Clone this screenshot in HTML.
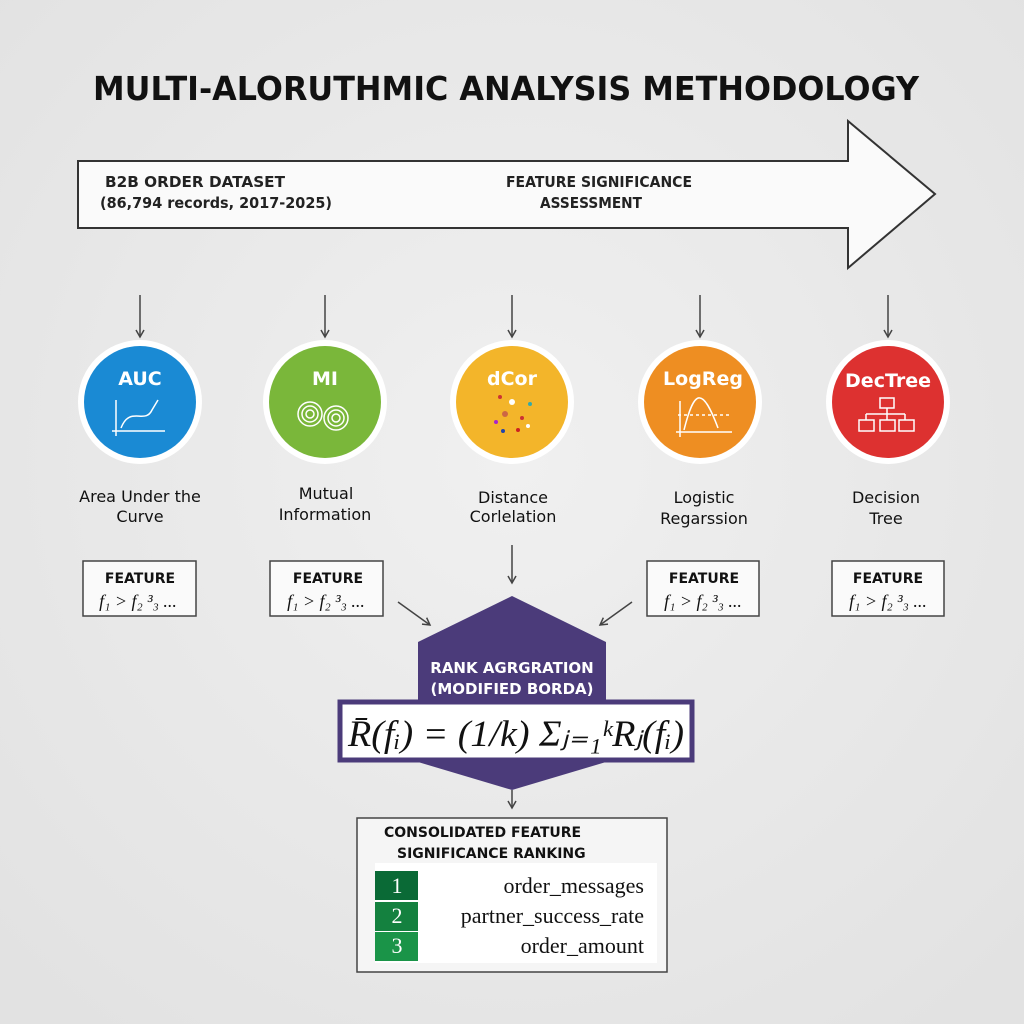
<!DOCTYPE html>
<html><head><style>
html,body{margin:0;padding:0;background:#e9e9e9;}
svg{display:block;}
text{font-family:"DejaVu Sans","Liberation Sans",sans-serif;}
text.serif,.serif text{font-family:"Liberation Serif",serif;}
</style></head><body>
<svg width="1024" height="1024" viewBox="0 0 1024 1024" xmlns="http://www.w3.org/2000/svg">
<defs>
<radialGradient id="bg" cx="50%" cy="45%" r="70%"><stop offset="0" stop-color="#f0f0f0"/><stop offset="1" stop-color="#e2e2e2"/></radialGradient>
<marker id="ah" markerWidth="10" markerHeight="10" refX="8" refY="5" orient="auto" markerUnits="userSpaceOnUse"><path d="M1,1 L8,5 L1,9" fill="none" stroke="#444" stroke-width="1.5"/></marker>
</defs>
<rect width="1024" height="1024" fill="url(#bg)"/>
<text x="506" y="100" text-anchor="middle" font-size="33" font-weight="bold" fill="#111" textLength="826" lengthAdjust="spacingAndGlyphs">MULTI-ALORUTHMIC ANALYSIS METHODOLOGY</text>
<path d="M78,161 L848,161 L848,121 L935,194 L848,268 L848,228 L78,228 Z" fill="#fafafa" stroke="#333" stroke-width="2"/>
<g font-size="15" font-weight="bold" fill="#222">
<text x="105" y="187" textLength="180" lengthAdjust="spacingAndGlyphs">B2B ORDER DATASET</text>
<text x="100" y="208" textLength="232" lengthAdjust="spacingAndGlyphs">(86,794 records, 2017-2025)</text>
<text x="506" y="187" textLength="186" lengthAdjust="spacingAndGlyphs">FEATURE SIGNIFICANCE</text>
<text x="540" y="208" textLength="102" lengthAdjust="spacingAndGlyphs">ASSESSMENT</text>
</g>
<g stroke="#444" stroke-width="1.5" marker-end="url(#ah)">
<line x1="140" y1="295" x2="140" y2="337"/><line x1="325" y1="295" x2="325" y2="337"/><line x1="512" y1="295" x2="512" y2="337"/><line x1="700" y1="295" x2="700" y2="337"/><line x1="888" y1="295" x2="888" y2="337"/>
<line x1="512" y1="545" x2="512" y2="583"/>
<line x1="398" y1="602" x2="430" y2="625"/>
<line x1="632" y1="602" x2="600" y2="625"/>
<line x1="512" y1="790" x2="512" y2="808"/>
</g>
<g>
<circle cx="140" cy="402" r="62" fill="#fff"/><circle cx="140" cy="402" r="56" fill="#1a8ad4"/>
<circle cx="325" cy="402" r="62" fill="#fff"/><circle cx="325" cy="402" r="56" fill="#7ab73a"/>
<circle cx="512" cy="402" r="62" fill="#fff"/><circle cx="512" cy="402" r="56" fill="#f3b52a"/>
<circle cx="700" cy="402" r="62" fill="#fff"/><circle cx="700" cy="402" r="56" fill="#ee8e22"/>
<circle cx="888" cy="402" r="62" fill="#fff"/><circle cx="888" cy="402" r="56" fill="#dd3130"/>
</g>
<g font-weight="bold" fill="#fff" text-anchor="middle" font-size="19">
<text x="140" y="385">AUC</text><text x="325" y="385">MI</text><text x="512" y="385">dCor</text><text x="703" y="385">LogReg</text><text x="888" y="387">DecTree</text>
</g>
<g stroke="#fff" stroke-width="1.5" fill="none">
<path d="M116,400 V436 M112,431 H165"/><path d="M121,428 C130,405 145,425 152,410 L158,400"/>
<circle cx="310" cy="414" r="12"/><circle cx="310" cy="414" r="8"/><circle cx="310" cy="414" r="4"/>
<circle cx="336" cy="418" r="12"/><circle cx="336" cy="418" r="8"/><circle cx="336" cy="418" r="4"/>
<path d="M680,401 V437 M676,432 H732"/><path d="M684,430 C694,390 702,385 718,428"/><path d="M678,415 H730" stroke-dasharray="3,3"/>
<rect x="880" y="398" width="14" height="10"/><path d="M887,408 V414 M866,414 H905 M866,414 V420 M887,414 V420 M905,414 V420"/>
<rect x="859" y="420" width="15" height="11"/><rect x="880" y="420" width="15" height="11"/><rect x="899" y="420" width="15" height="11"/>
</g>
<g>
<circle cx="500" cy="397" r="2" fill="#c33"/><circle cx="512" cy="402" r="3" fill="#fff"/><circle cx="505" cy="414" r="3" fill="#c64"/><circle cx="522" cy="418" r="2" fill="#c33"/><circle cx="530" cy="404" r="2" fill="#3aa"/><circle cx="496" cy="422" r="2" fill="#a2c"/><circle cx="518" cy="430" r="2" fill="#c22"/><circle cx="503" cy="431" r="2" fill="#24a"/><circle cx="528" cy="426" r="2" fill="#fff"/>
</g>
<g font-size="16" fill="#111" text-anchor="middle">
<text x="140" y="502">Area Under the</text><text x="140" y="522">Curve</text>
<text x="326" y="499">Mutual</text><text x="325" y="520">Information</text>
<text x="513" y="503">Distance</text><text x="513" y="522">Corlelation</text>
<text x="704" y="503">Logistic</text><text x="704" y="524">Regarssion</text>
<text x="886" y="503">Decision</text><text x="886" y="524">Tree</text>
</g>
<g fill="#fafafa" stroke="#444" stroke-width="1.5">
<rect x="83" y="561" width="113" height="55"/><rect x="270" y="561" width="113" height="55"/><rect x="647" y="561" width="112" height="55"/><rect x="832" y="561" width="112" height="55"/>
</g>
<g font-size="14" font-weight="bold" fill="#111" text-anchor="middle">
<text x="140" y="583">FEATURE</text><text x="328" y="583">FEATURE</text><text x="704" y="583">FEATURE</text><text x="888" y="583">FEATURE</text>
</g>
<g class="serif" font-size="18" font-style="italic" fill="#111" text-anchor="middle">
<text x="138" y="607">f₁ &gt; f₂ ³₃ ...</text><text x="326" y="607">f₁ &gt; f₂ ³₃ ...</text><text x="703" y="607">f₁ &gt; f₂ ³₃ ...</text><text x="888" y="607">f₁ &gt; f₂ ³₃ ...</text>
</g>
<path d="M512,596 L606,642 L606,762 L512,790 L418,762 L418,642 Z" fill="#4b3b7a"/>
<text x="512" y="673" text-anchor="middle" font-size="15" font-weight="bold" fill="#fff">RANK AGRGRATION</text>
<text x="512" y="694" text-anchor="middle" font-size="15" font-weight="bold" fill="#fff">(MODIFIED BORDA)</text>
<rect x="340" y="702" width="352" height="58" fill="#fff" stroke="#4b3b7a" stroke-width="5"/>
<text x="516" y="746" text-anchor="middle" class="serif" font-size="37" fill="#111" font-style="italic" textLength="336" lengthAdjust="spacingAndGlyphs">R̄(fᵢ) = (1/k) Σⱼ₌₁ᵏRⱼ(fᵢ)</text>
<rect x="357" y="818" width="310" height="154" fill="#f5f5f5" stroke="#444" stroke-width="1.5"/>
<text x="384" y="837" font-size="14" font-weight="bold" fill="#111">CONSOLIDATED FEATURE</text>
<text x="397" y="858" font-size="14" font-weight="bold" fill="#111">SIGNIFICANCE RANKING</text>
<rect x="375" y="863" width="282" height="100" fill="#fff"/>
<rect x="375" y="871" width="43" height="29" fill="#0a6a36"/>
<rect x="375" y="902" width="43" height="29" fill="#14813f"/>
<rect x="375" y="932" width="43" height="29" fill="#1a9448"/>
<g class="serif" font-size="22" fill="#fff" text-anchor="middle"><text x="397" y="893">1</text><text x="397" y="923">2</text><text x="397" y="953">3</text></g>
<g class="serif" font-size="22" fill="#111" text-anchor="end"><text x="644" y="893">order_messages</text><text x="644" y="923">partner_success_rate</text><text x="644" y="953">order_amount</text></g>
</svg>
</body></html>
